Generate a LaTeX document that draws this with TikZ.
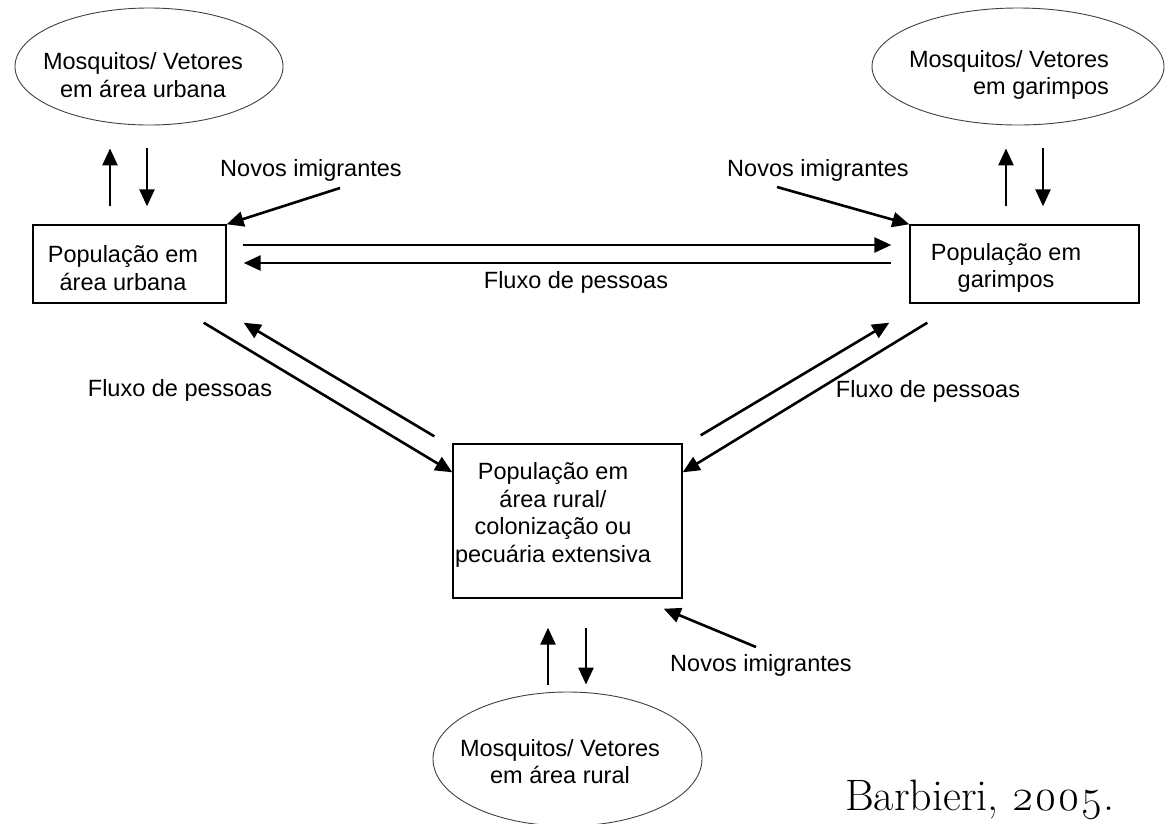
\documentclass[tikz,border=0pt]{standalone}
\usepackage{fontspec}
\setsansfont{Liberation Sans}
\newfontfamily\fontecit{Latin Modern Roman}[Numbers=OldStyle]
\usetikzlibrary{arrows.meta,shapes.geometric,positioning}

\tikzset{
  popbox/.style={draw, rectangle, line width=1.4pt, inner sep=0pt},
  vetor/.style={draw=black!75, ellipse, line width=0.9pt, inner sep=0pt},
  rotulo/.style={font=\sffamily\fontsize{23.5}{27.5}\selectfont, inner sep=0pt, align=center},
  fluxo/.style={line width=2.6pt, -{Triangle[length=17pt,width=15pt]}},
}

\begin{document}
\begin{tikzpicture}[x=1pt,y=-1pt]
  \useasboundingbox (0,0) rectangle (1167,823);

  % Mosquitos / vetores
  \node[vetor, minimum width=268pt, minimum height=117pt] (vurb) at (149,66.5) {};
  \node[vetor, minimum width=292pt, minimum height=117pt] (vgar) at (1018,66.5) {};
  \node[vetor, minimum width=269pt, minimum height=134pt] (vrur) at (567.5,759) {};
  \node[rotulo] (vurbtxt) at (143,75) {Mosquitos/ Vetores\\em área urbana};
  \node[rotulo, align=right] (vgartxt) at (1009,75) {Mosquitos/ Vetores\\em garimpos};
  \node[rotulo] (vrurtxt) at (560,761.5) {Mosquitos/ Vetores\\em área rural};

  % Populacoes
  \node[popbox, minimum width=193pt, minimum height=78pt] (urbana) at (129.5,264) {};
  \node[popbox, minimum width=229pt, minimum height=78pt] (garimpos) at (1024.5,264) {};
  \node[popbox, minimum width=229pt, minimum height=154pt] (rural) at (567.5,521) {};
  \node[rotulo] (urbtxt) at (123,268) {População em\\área urbana};
  \node[rotulo] (gartxt) at (1006,268) {População em\\garimpos};
  \node[rotulo] (rurtxt) at (553,515) {População em\\área rural/\\colonização ou\\pecuária extensiva};

  % vetores <-> populacao
  \draw[fluxo] ([shift={(-19.5,-18)}]urbana.north) -- ([shift={(-39,23)}]vurb.south);
  \draw[fluxo] ([shift={(-2,23)}]vurb.south) -- ([shift={(17.5,-18)}]urbana.north);
  \draw[fluxo] ([shift={(-18.5,-18)}]garimpos.north) -- ([shift={(-12,23)}]vgar.south);
  \draw[fluxo] ([shift={(25,23)}]vgar.south) -- ([shift={(18.5,-18)}]garimpos.north);
  \draw[fluxo] ([shift={(-19.5,-7)}]vrur.north) -- ([shift={(-19.5,29)}]rural.south);
  \draw[fluxo] ([shift={(18.5,29)}]rural.south) -- ([shift={(18.5,-7)}]vrur.north);

  % fluxo de pessoas
  \draw[fluxo] ([shift={(16,-19)}]urbana.east) -- ([shift={(-18,-19)}]garimpos.west);
  \draw[fluxo] ([shift={(-18,-1)}]garimpos.west) -- ([shift={(17,-1)}]urbana.east);
  \node[rotulo] (fluxo1) at (576,282) {Fluxo de pessoas};

  \draw[fluxo] ([shift={(-23,19)}]urbana.south east) -- ([shift={(0,29)}]rural.north west);
  \draw[fluxo] ([shift={(-18,-7)}]rural.north west) -- ([shift={(17,19)}]urbana.south east);
  \node[rotulo] (fluxo2) at (180,390) {Fluxo de pessoas};

  \draw[fluxo] ([shift={(18,-8)}]rural.north east) -- ([shift={(-20,19)}]garimpos.south west);
  \draw[fluxo] ([shift={(18,19)}]garimpos.south west) -- ([shift={(0,29)}]rural.north east);
  \node[rotulo] (fluxo3) at (928,391) {Fluxo de pessoas};

  % novos imigrantes
  \node[rotulo] (nurb) at (311,170) {Novos imigrantes};
  \node[rotulo] (ngar) at (818,170) {Novos imigrantes};
  \node[rotulo] (nrur) at (761,665) {Novos imigrantes};
  \draw[fluxo] ([shift={(29,18)}]nurb.center) -- (urbana.north east);
  \draw[fluxo] ([shift={(-41,17)}]ngar.center) -- (garimpos.north west);
  \draw[fluxo] ([shift={(-5,-18)}]nrur.center) -- ([shift={(-19,10)}]rural.south east);

  \node[anchor=base west, inner sep=0pt, font=\fontecit\fontsize{44}{50}\selectfont] (fonte) at (845,810) {Barbieri, 2005.};
\end{tikzpicture}
\end{document}
